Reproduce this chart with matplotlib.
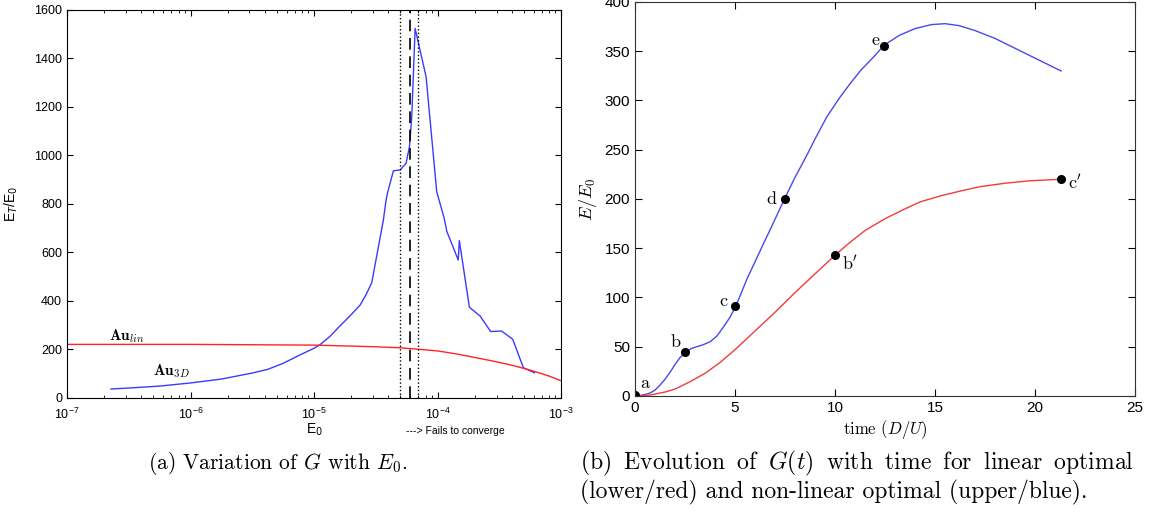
import matplotlib
matplotlib.use('Agg')
import matplotlib.pyplot as plt
import numpy as np

plt.rcParams['font.family'] = ['Liberation Sans', 'DejaVu Sans']

# --- panel (a): gain vs initial energy ---
e0_nl = [2.27e-7, 3.16e-7, 5.62e-7, 1.0e-6, 1.78e-6, 3.16e-6, 4.22e-6, 5.62e-6, 7.72e-6,
         1.0e-5, 1.12e-5, 1.35e-5, 1.62e-5, 1.95e-5, 2.36e-5, 2.63e-5, 2.93e-5,
         3.31e-5, 3.64e-5, 3.83e-5, 3.93e-5,
         4.39e-5, 4.97e-5, 5.56e-5, 5.92e-5, 6.18e-5, 6.58e-5, 8.07e-5, 9.84e-5,
         1.13e-4, 1.19e-4, 1.47e-4, 1.50e-4, 1.81e-4, 2.21e-4, 2.69e-4, 3.30e-4,
         4.06e-4, 4.95e-4, 6.08e-4]
g_nl = [37, 41, 49, 62, 78, 103, 118, 143, 178,
        205, 220, 255, 297, 338, 383, 425, 475,
        620, 734, 816, 845,
        937, 940, 968, 1036, 1160, 1524, 1325, 851,
        742, 686, 569, 649, 374, 338, 274, 276,
        242, 125, 104]

e0_lin = [1e-7, 1e-6, 1e-5, 2e-5, 3.16e-5, 5e-5, 7e-5, 1e-4, 1.41e-4, 2e-4,
          2.82e-4, 4e-4, 5.62e-4, 7.94e-4, 1e-3]
g_lin = [221, 221, 218, 214, 211, 207, 201, 194, 182, 167,
         152, 135, 115, 91, 71]

e0_bounds = [5e-5, 7e-5]
e0_crit = 6e-5

# --- panel (b): gain vs time ---
t_nl = [0, 0.25, 0.5, 0.75, 1.0, 1.25, 1.5, 1.75, 2.0, 2.25, 2.58, 2.8, 3.08, 3.4,
        3.75, 4.1, 4.42, 4.75, 5.03, 5.3, 5.58, 6.2, 6.5, 6.83, 7.15, 7.47, 8.0,
        8.58, 9.0, 9.58, 10.2, 10.75, 11.3, 11.92, 12.45, 13.2, 14.0, 14.8, 15.5,
        16.2, 17.0, 18.0, 19.0, 20.0, 20.7, 21.3]
v_nl = [0, 0.5, 1.5, 3, 6, 11, 17, 24, 32, 39, 45, 48, 50, 52,
        55, 61, 70, 80, 91, 104, 118, 145, 158, 172, 186, 200, 222,
        244, 261, 283, 302, 317, 331, 344, 356, 366, 373, 377, 378,
        376, 371, 363, 353, 343, 336, 330]

t_lin = [0, 0.75, 1.5, 2.0, 2.75, 3.5, 4.25, 5.0, 6.0, 7.0, 8.0, 9.0, 10.0,
         10.75, 11.5, 12.5, 13.5, 14.25, 15.25, 16.25, 17.25, 18.5, 19.75, 21.3]
v_lin = [0, 1, 4, 7, 14.5, 23, 34, 47, 66, 85, 105, 124, 143,
         156, 168, 180, 190, 197, 203, 208, 212.5, 216, 218.5, 220]

pt_nl_t = [0, 2.5, 5, 7.5, 12.45]
pt_nl_v = [1, 45, 91, 200, 355.6]
pt_nl_lab = ['a', 'b', 'c', 'd', 'e']
pt_lin_t = [10, 21.3]
pt_lin_v = [143, 220]
pt_lin_lab = ["b$'$", "c$'$"]

fig = plt.figure(figsize=(11.5, 5.12), dpi=100)
ax1 = fig.add_axes([0.0583, 0.2227, 0.4296, 0.7578])
ax2 = fig.add_axes([0.5522, 0.2266, 0.4348, 0.7695])

# left
ax1.semilogx(e0_nl, g_nl, color='#3a3aff', lw=1.0)
ax1.semilogx(e0_lin, g_lin, color='#ff2424', lw=1.0)
for e in e0_bounds:
    ax1.axvline(e, color='black', ls=':', lw=1.0)
ax1.axvline(e0_crit, color='black', ls=(0, (7, 4)), lw=1.2)
ax1.set_xlim(1e-7, 1e-3)
ax1.set_ylim(0, 1600)
ax1.set_yticks(np.arange(0, 1601, 200))
ax1.tick_params(which='both', direction='in', top=True, right=True, labelsize=9)
ax1.tick_params(which='major', length=4)
ax1.tick_params(which='minor', length=2)
ax1.tick_params(axis='x', pad=6)
ax1.set_xlabel(r'E$_0$', fontsize=10, labelpad=0)
ax1.set_ylabel(r'E$_T$/E$_0$', fontsize=10, labelpad=10)
ax1.text(2.2e-7, 238, r'$\mathbf{Au}_{lin}$', math_fontfamily='cm', fontsize=11)
ax1.text(5.0e-7, 93, r'$\mathbf{Au}_{3D}$', math_fontfamily='cm', fontsize=11)
ax1.text(5.6e-5, -0.085, '---> Fails to converge', transform=ax1.get_xaxis_transform(),
         fontsize=7.5, va='center')

# right
ax2.plot(t_nl, v_nl, color='#4848f0', lw=1.0)
ax2.plot(t_lin, v_lin, color='#f03c3c', lw=1.0)
ax2.plot(pt_nl_t, pt_nl_v, 'o', color='black', ms=5.5)
ax2.plot(pt_lin_t, pt_lin_v, 'o', color='black', ms=5.5)
ax2.set_xlim(0, 25)
ax2.set_ylim(0, 400)
ax2.set_xticks(np.arange(0, 26, 5))
ax2.set_yticks(np.arange(0, 401, 50))
ax2.tick_params(direction='in', top=True, right=True, labelsize=11, length=5)
for s in ax2.spines.values():
    s.set_color('#333333')
lab_off = {'a': (0.5, 12), 'b': (-0.5, 9), 'c': (-0.6, 5), 'd': (-0.7, 0), 'e': (-0.45, 5)}
for t, v, lab in zip(pt_nl_t, pt_nl_v, pt_nl_lab):
    dx, dy = lab_off[lab]
    ax2.text(t + dx, v + dy, lab, family='cmr10', fontsize=13, ha='center', va='center')
for t, v, lab, dx, dy in zip(pt_lin_t, pt_lin_v, pt_lin_lab, [0.75, 0.7], [-8, -3]):
    ax2.text(t + dx, v + dy, lab, family='cmr10', math_fontfamily='cm', fontsize=13,
             ha='center', va='center')
ax2.set_xlabel(r'time $(D/U)$', family='cmr10', math_fontfamily='cm', fontsize=12, labelpad=2)
ax2.set_ylabel(r'$E/E_0$', math_fontfamily='cm', fontsize=13, labelpad=4)

# captions (line 1 of (b) is justified, so the word gaps are wider)
gap = r' $\:$'
cap_b1 = gap.join(['(b)', 'Evolution', 'of', '$G(t)$', 'with', 'time', 'for',
                   'linear', 'optimal'])
fig.text(0.1287, 0.094, r'(a) Variation of $G$ with $E_0$.', family='cmr10',
         math_fontfamily='cm', fontsize=15.5, va='center')
fig.text(0.5043, 0.094, cap_b1,
         family='cmr10', math_fontfamily='cm', fontsize=17, va='center')
fig.text(0.5043, 0.039, r'(lower/red) and non-linear optimal (upper/blue).',
         family='cmr10', math_fontfamily='cm', fontsize=17, va='center')

fig.savefig('out.png', dpi=100)
